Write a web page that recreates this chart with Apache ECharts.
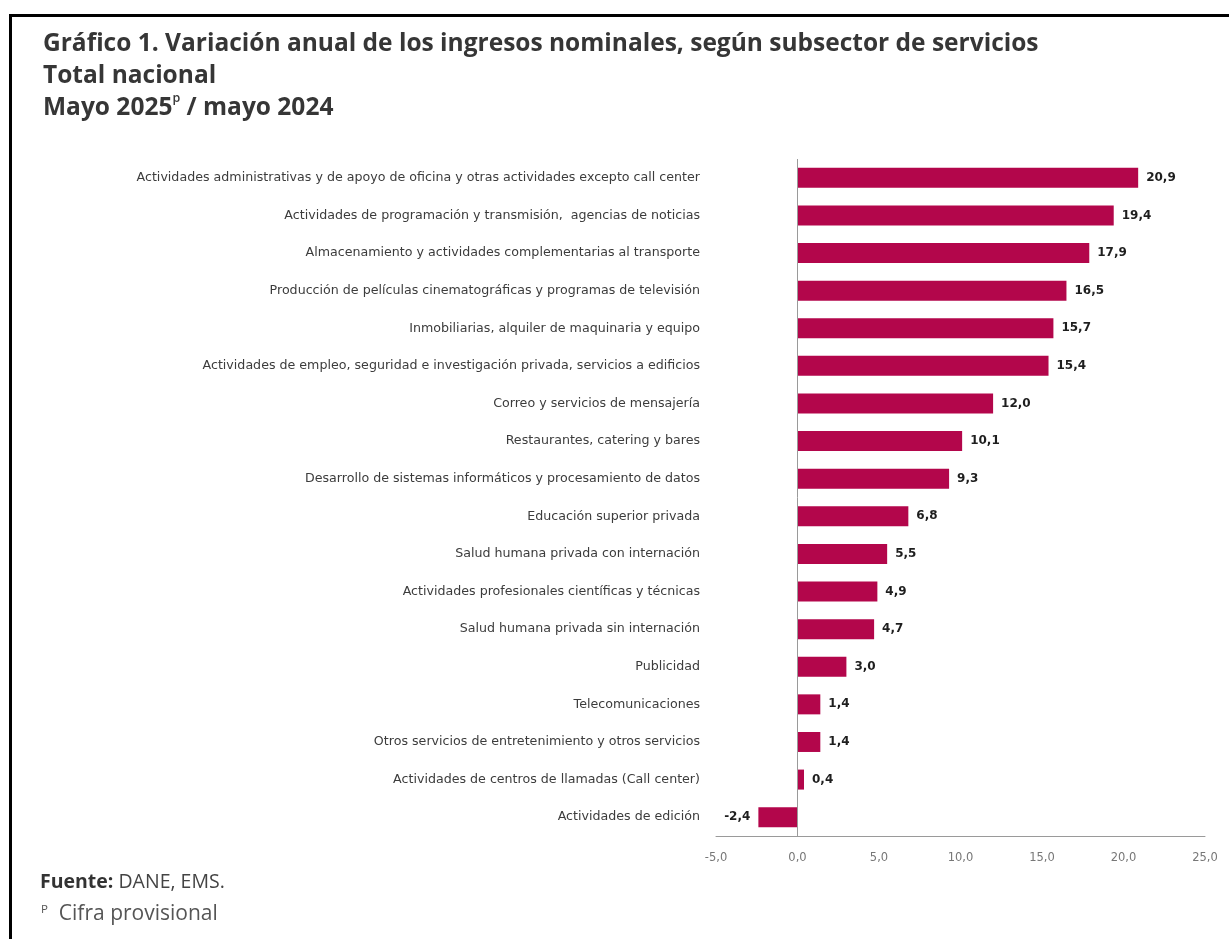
<!DOCTYPE html>
<html>
<head>
<meta charset="utf-8">
<script src="https://cdn.jsdelivr.net/npm/echarts@6/dist/echarts.min.js"></script>
<style>
  html, body { margin: 0; padding: 0; background: #fff; }
  #frame { position: absolute; left: 9px; top: 14px; right: 0; bottom: 0;
           border-left: 3px solid #000; border-top: 3px solid #000; }
  #chart { position: absolute; left: 0; top: 0; width: 1229px; height: 939px; }
</style>
</head>
<body>
<div id="frame"></div>
<div id="chart"></div>
<script>
// Subsectores de servicios, mayo 2025p / mayo 2024 (variación anual, %)
const categories = [
  'Actividades administrativas y de apoyo de oficina y otras actividades excepto call center',
  'Actividades de programación y transmisión,  agencias de noticias',
  'Almacenamiento y actividades complementarias al transporte',
  'Producción de películas cinematográficas y programas de televisión',
  'Inmobiliarias, alquiler de maquinaria y equipo',
  'Actividades de empleo, seguridad e investigación privada, servicios a edificios',
  'Correo y servicios de mensajería',
  'Restaurantes, catering y bares',
  'Desarrollo de sistemas informáticos y procesamiento de datos',
  'Educación superior privada',
  'Salud humana privada con internación',
  'Actividades profesionales científicas y técnicas',
  'Salud humana privada sin internación',
  'Publicidad',
  'Telecomunicaciones',
  'Otros servicios de entretenimiento y otros servicios',
  'Actividades de centros de llamadas (Call center)',
  'Actividades de edición'
];
const variation = [20.9, 19.4, 17.9, 16.5, 15.7, 15.4, 12.0, 10.1, 9.3, 6.8, 5.5, 4.9, 4.7, 3.0, 1.4, 1.4, 0.4, -2.4];
const xTicks = { min: -5, max: 25, interval: 5 };

const BAR = '#B3064B';
const comma = (v) => v.toFixed(1).replace('.', ',');

const chart = echarts.init(document.getElementById('chart'), null, { renderer: 'canvas' });

chart.setOption({
  animation: false,
  title: {
    left: 38,
    top: 23,
    text: 'Gráfico 1. Variación anual de los ingresos nominales, según subsector de servicios\nTotal nacional\nMayo 2025{sup|p} / mayo 2024',
    textStyle: {
      fontFamily: 'Open Sans',
      fontSize: 24.5,
      fontWeight: 700,
      color: '#363636',
      lineHeight: 32,
      rich: {
        sup: { fontFamily: 'Open Sans', fontSize: 12.5, fontWeight: 600, color: '#363636', verticalAlign: 'top', lineHeight: 25 }
      }
    }
  },
  grid: { left: 716, right: 24, top: 159, bottom: 103, containLabel: false },
  xAxis: {
    type: 'value',
    min: xTicks.min,
    max: xTicks.max,
    interval: xTicks.interval,
    splitLine: { show: false },
    axisTick: { show: false },
    axisLine: { show: true, onZero: false, lineStyle: { color: '#9a9a9a', width: 1 } },
    axisLabel: {
      margin: 16,
      color: '#777',
      fontFamily: 'DejaVu Sans',
      fontSize: 11.5,
      formatter: (v) => comma(v)
    }
  },
  yAxis: {
    type: 'category',
    inverse: true,
    data: categories,
    axisLine: { show: false },
    axisTick: { show: false },
    axisLabel: {
      margin: 16,
      color: '#3c3c3c',
      fontFamily: 'DejaVu Sans',
      fontSize: 12.65
    }
  },
  series: [{
    type: 'bar',
    barWidth: 20,
    data: variation.map((v) => ({
      value: v,
      label: { position: v < 0 ? 'left' : 'right' }
    })),
    itemStyle: { color: BAR },
    label: {
      show: true,
      distance: 8,
      color: '#1e1e1e',
      fontFamily: 'DejaVu Sans',
      fontWeight: 700,
      fontSize: 12,
      formatter: (p) => comma(p.value)
    },
    markLine: {
      silent: true,
      symbol: 'none',
      label: { show: false },
      lineStyle: { color: '#9a9a9a', width: 1, type: 'solid' },
      data: [{ xAxis: 0 }]
    }
  }],
  graphic: [
    {
      type: 'text',
      left: 40,
      top: 872,
      style: {
        text: '{b|Fuente:} DANE, EMS.',
        fontFamily: 'Open Sans',
        fontSize: 19.5,
        fill: '#444',
        rich: { b: { fontFamily: 'Open Sans', fontSize: 19.5, fontWeight: 700, fill: '#333' } }
      }
    },
    {
      type: 'text',
      left: 41,
      top: 904,
      style: {
        text: '{s|P}  Cifra provisional',
        fontFamily: 'Open Sans',
        fontSize: 21,
        fill: '#555',
        rich: { s: { fontFamily: 'Open Sans', fontSize: 11.5, fill: '#555', verticalAlign: 'top', lineHeight: 21 } }
      }
    }
  ]
});
</script>
</body>
</html>
